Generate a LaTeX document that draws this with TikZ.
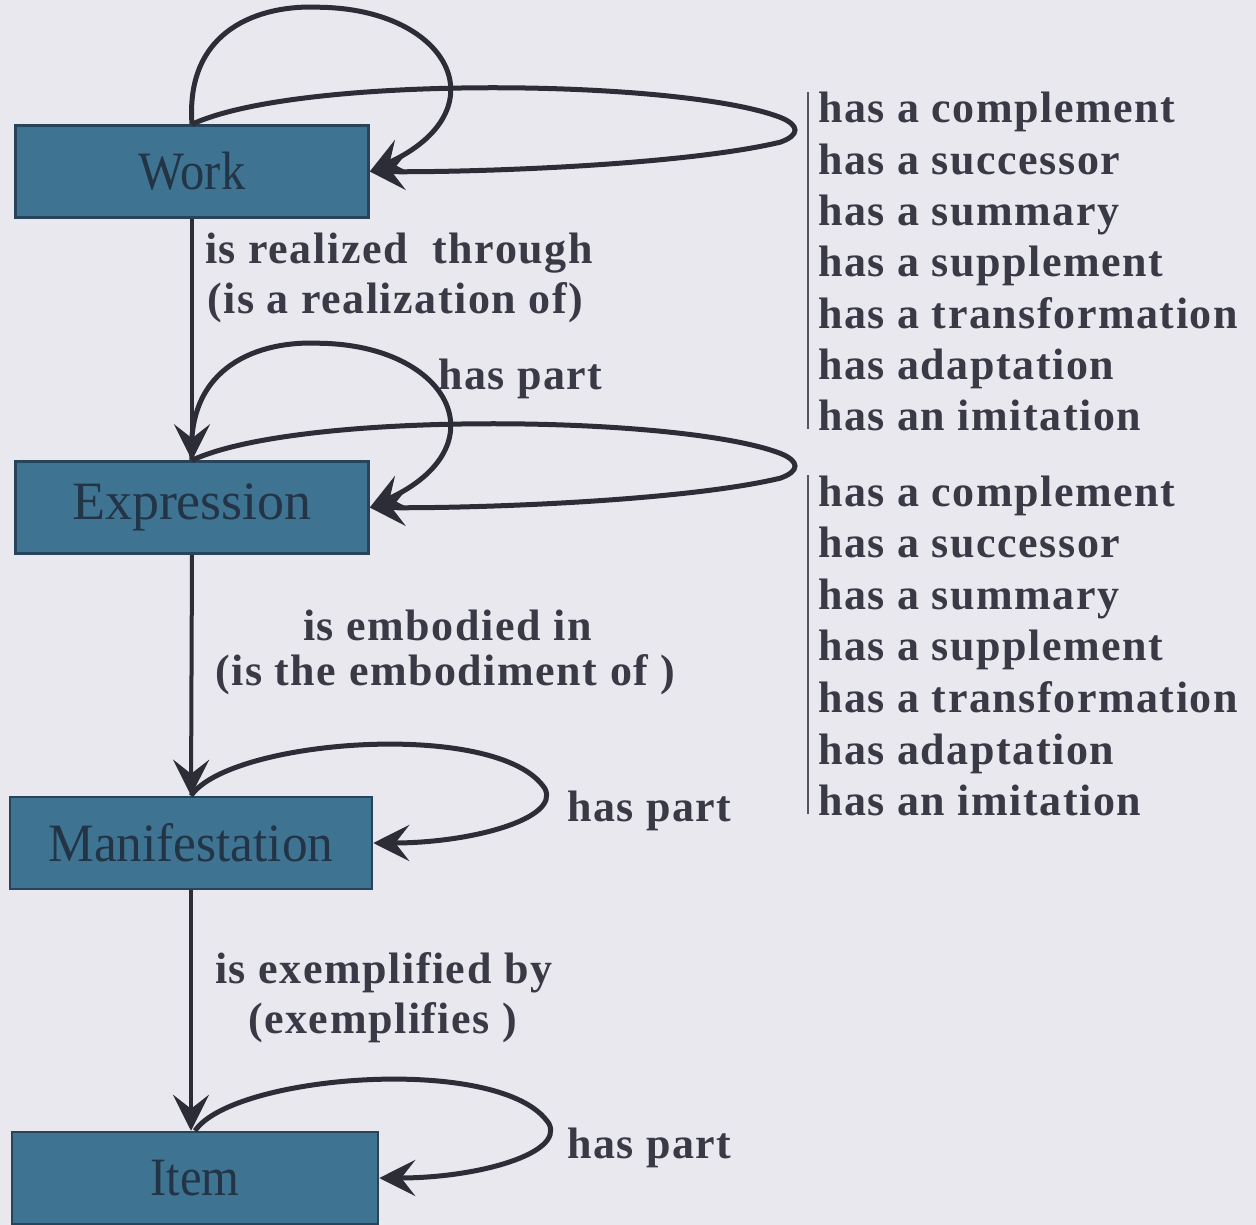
\documentclass[tikz,border=0pt]{standalone}
\usepackage{fontspec}
\setmainfont{Liberation Serif}
\newfontfamily\lblfont{Liberation Serif}[LetterSpace=3.5]
\usetikzlibrary{arrows.meta,calc}

\definecolor{bg}{RGB}{232,232,238}
\definecolor{boxfill}{RGB}{62,115,145}
\definecolor{boxline}{RGB}{40,68,90}
\definecolor{boxtext}{RGB}{34,52,70}
\definecolor{ink}{RGB}{45,45,55}
\definecolor{lbl}{RGB}{58,58,70}
\definecolor{barcol}{RGB}{85,85,95}

\begin{document}
\begin{tikzpicture}[x=1pt,y=-1pt,
  entity/.style={draw=boxline, line width=2.5pt, fill=boxfill,
    minimum width=353pt, minimum height=92pt, inner sep=0pt,
    font=\fontsize{54}{54}\selectfont, text=boxtext},
  rel/.style={text=lbl, font=\lblfont\bfseries\fontsize{44}{51}\selectfont,
    inner sep=0pt, anchor=base west},
  tip/.style={-{Stealth[length=36pt,width=36pt,inset=14pt]}},
  flow/.style={draw=ink, line width=4pt, tip},
  selfloop/.style={draw=ink, line width=5pt, tip},
  bar/.style={draw=barcol, line width=2.8pt}
]
\fill[bg] (0,0) rectangle (1256,1225);
\useasboundingbox (0,0) rectangle (1256,1225);

% FRBR group 1 entities
\node[entity] (work)  at (192,171.5) {\scalebox{0.9}[1]{Work}};
\node[entity] (expr)  at (192,507.5) {Expression};
\node[entity, minimum width=362pt] (manif) at (191,843) {\scalebox{0.95}[1]{Manifestation}};
\node[entity, minimum width=366pt] (item)  at (195,1178) {\scalebox{0.9}[1]{Item}};

% primary relationships down the hierarchy
\draw[flow] (work.south) -- (expr.north);
\draw[flow] (expr.south) -- (manif.north);
\draw[flow] (manif.south) -- (manif.south |- item.north);

% work and expression: part loop and related-work loop
\foreach \n in {work,expr}{
  \draw[selfloop] (\n.north)
    .. controls ($(\n.north)+(-7,-95)$) and ($(\n.north)+(68,-120)$) .. ($(\n.north)+(128,-117)$)
    .. controls ($(\n.north)+(258,-115)$) and ($(\n.east)+(132,-61)$) .. (\n.east);
  \draw[selfloop] (\n.north)
    .. controls ($(\n.north)+(108,-50)$) and ($(\n.north)+(488,-45)$) .. ($(\n.north)+(588,-7)$)
    .. controls ($(\n.north)+(608,1)$) and ($(\n.north)+(608,11)$) .. ($(\n.north)+(588,18)$)
    .. controls ($(\n.east)+(312,-6)$) and ($(\n.east)+(102,1)$) .. (\n.east);
}

% manifestation and item: part loops
\foreach \n in {manif,item}{
  \draw[selfloop] (\n.north)
    .. controls ($(\n.north)+(39,-57)$) and ($(\n.north)+(309,-77)$) .. ($(\n.north)+(354,-7)$)
    .. controls ($(\n.north)+(369,23)$) and ($(\n.east)+(98,0)$) .. (\n.east);
}

% relationship labels
\node[rel] (realA) at (205,263) {is realized~ through};
\node[rel] (realB) at (207,313) {(is a realization of)};
\node[rel] (hp1)   at (438,389) {has part};
\node[rel] (embA)  at (303,640) {is embodied in};
\node[rel] (embB)  at (215,685) {(is the embodiment of )};
\node[rel] (hp2)   at (567,821) {has part};
\node[rel] (exA)   at (215,983) {is exemplified by};
\node[rel] (exB)   at (248,1033) {(exemplifies )};
\node[rel] (hp3)   at (567,1158) {has part};

% lists of work-to-work and expression-to-expression relationships
\foreach \t [count=\i] in {has a complement,has a successor,has a summary,
    has a supplement,has a transformation,has adaptation,has an imitation}{
  \node[rel] (wa\i) at (818,{123+51.3*(\i-1)}) {\t};
  \node[rel] (ea\i) at (818,{506+51.6*(\i-1)}) {\t};
}
\draw[bar] ($(wa1.north west)+(-10,0)$) -- ($(wa7.south west)+(-10,-2)$);
\draw[bar] ($(ea1.north west)+(-10,0)$) -- ($(ea7.south west)+(-10,-2)$);
\end{tikzpicture}
\end{document}
